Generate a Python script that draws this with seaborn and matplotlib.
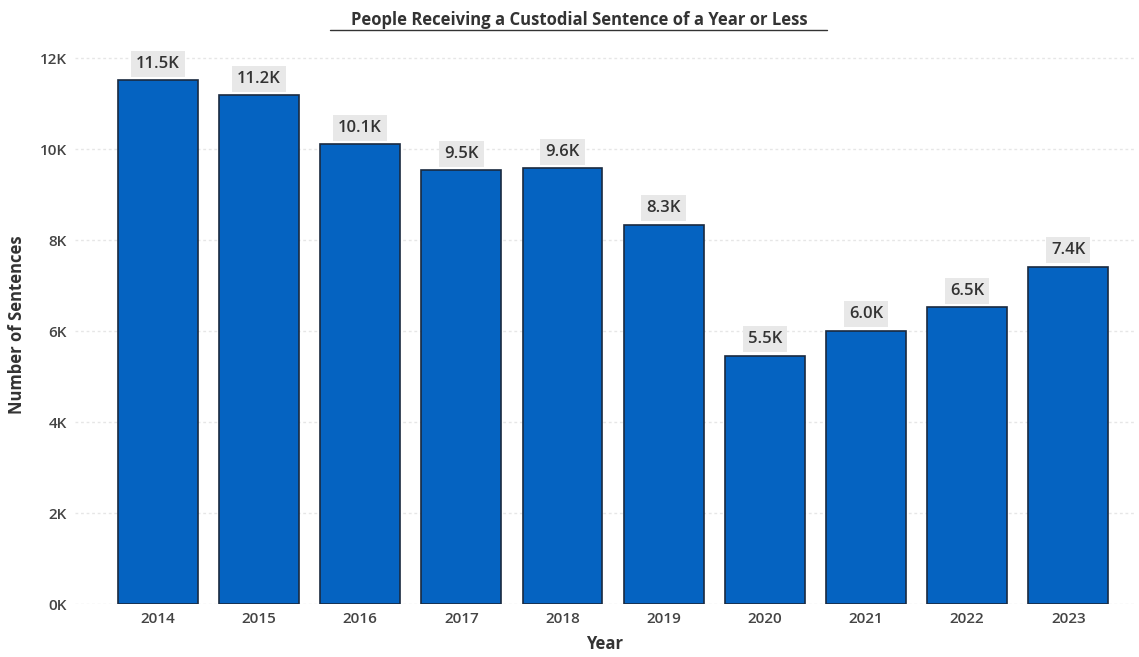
import matplotlib
matplotlib.use("Agg")
import matplotlib.pyplot as plt
import seaborn as sns
import pandas as pd

years = ["2014", "2015", "2016", "2017", "2018", "2019", "2020", "2021", "2022", "2023"]
sentences = [11520, 11180, 10110, 9540, 9590, 8340, 5460, 6010, 6520, 7420]
value_labels = ["11.5K", "11.2K", "10.1K", "9.5K", "9.6K", "8.3K", "5.5K", "6.0K", "6.5K", "7.4K"]
y_ticks = [0, 2000, 4000, 6000, 8000, 10000, 12000]
y_tick_labels = ["0K", "2K", "4K", "6K", "8K", "10K", "12K"]

sns.set_theme(style="white")
plt.rcParams['font.family'] = ['Open Sans', 'DejaVu Sans']

df = pd.DataFrame({"Year": years, "Sentences": sentences})

fig = plt.figure(figsize=(11.39, 6.57), dpi=100)
ax = fig.add_axes([75 / 1139, 53 / 657, 1060 / 1139, 559 / 657])

sns.barplot(data=df, x="Year", y="Sentences", color="#0563C1", width=0.79,
            edgecolor="#1a2a40", linewidth=1.2, saturation=1, ax=ax)

ax.set_xlim(-0.82, 9.66)
ax.set_ylim(0, 12290)
ax.set_yticks(y_ticks)
ax.set_yticklabels(y_tick_labels)
ax.yaxis.grid(True, linestyle=(0, (2, 2)), color="#e6e6e6", linewidth=1)
ax.set_axisbelow(True)
for s in ax.spines.values():
    s.set_visible(False)
ax.tick_params(axis="both", length=0, labelsize=11, colors="#444444")
ax.tick_params(axis="y", pad=6)
ax.tick_params(axis="x", pad=6)
for t in ax.get_xticklabels() + ax.get_yticklabels():
    t.set_fontweight("semibold")

ax.set_xlabel("Year", fontsize=12, fontweight="bold", color="#333333", labelpad=6)
ax.set_ylabel("Number of Sentences", fontsize=12, fontweight="bold", color="#333333", labelpad=10)

for i, (v, lab) in enumerate(zip(sentences, value_labels)):
    ax.text(i, v + 180, lab, ha="center", va="bottom", fontsize=12, color="#333333",
            fontweight="semibold",
            bbox=dict(boxstyle="square,pad=0.3", facecolor="#e8e8e8", edgecolor="none"))

fig.text(579 / 1139, 1 - 20 / 657, "People Receiving a Custodial Sentence of a Year or Less",
         ha="center", va="center", fontsize=12, fontweight="bold", color="#333333")
# underline
fig.add_artist(plt.Line2D([330 / 1139, 827 / 1139], [1 - 30 / 657, 1 - 30 / 657],
                          color="#333333", linewidth=1))

fig.savefig("out.png", dpi=100)
